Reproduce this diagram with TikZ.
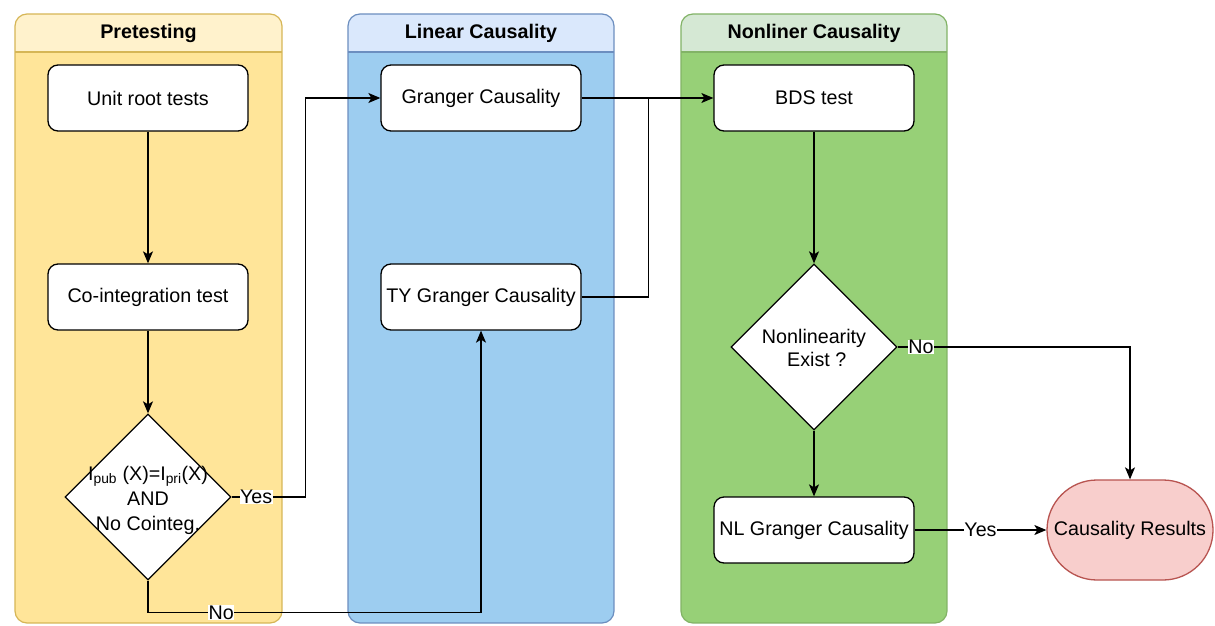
\documentclass[tikz,border=0pt]{standalone}
\usepackage{fontspec}
\setmainfont{Liberation Sans}
\usetikzlibrary{shapes.geometric,arrows.meta,calc}
\definecolor{yelHead}{HTML}{FFF2CC}
\definecolor{yelBody}{HTML}{FFE599}
\definecolor{yelLine}{HTML}{D6B656}
\definecolor{bluHead}{HTML}{DAE8FC}
\definecolor{bluBody}{HTML}{9DCDF0}
\definecolor{bluLine}{HTML}{6C8EBF}
\definecolor{grnHead}{HTML}{D5E8D4}
\definecolor{grnBody}{HTML}{97D077}
\definecolor{grnLine}{HTML}{82B366}
\definecolor{redFill}{HTML}{F8CECC}
\definecolor{redLine}{HTML}{B85450}
\tikzset{
  txt/.style={font=\fontsize{19.7}{23.6}\selectfont},
  lanetitle/.style={font=\fontsize{19.7}{23.6}\selectfont\bfseries},
  stepbox/.style={txt, draw, fill=white, line width=1.3pt, rounded corners=10pt,
    minimum width=200pt, minimum height=66pt, inner sep=2pt},
  decision/.style={diamond, draw, fill=white, line width=1.3pt,
    minimum width=166pt, minimum height=166pt, inner sep=0pt},
  terminal/.style={txt, draw=redLine, fill=redFill, line width=1.3pt, rounded corners=50pt,
    minimum width=166pt, minimum height=100pt, inner sep=2pt},
  conn/.style={line width=1.3pt},
  arr/.style={conn, -{Stealth[length=12pt,width=10pt,inset=3pt]}},
  lbl/.style={txt, fill=white, inner sep=0.5pt}
}
\begin{document}
\begin{tikzpicture}[x=1pt,y=-1pt]
\useasboundingbox (0,0) rectangle (1215,626);
\fill[white] (0,0) rectangle (1215,626);

% swimlanes: left edge, right edge, colour prefix, title
\foreach \xa/\xb/\cl/\ttl in {15/282/yel/Pretesting, 348/614/blu/Linear Causality, 681/947/grn/Nonliner Causality}{
  \begin{scope}
    \clip[rounded corners=12pt] (\xa,14) rectangle (\xb,623);
    \fill[\cl Head] (\xa,14) rectangle (\xb,52);
    \fill[\cl Body] (\xa,52) rectangle (\xb,623);
  \end{scope}
  \draw[\cl Line, line width=1.2pt, rounded corners=12pt] (\xa,14) rectangle (\xb,623);
  \draw[\cl Line, line width=1.2pt] (\xa,52) -- (\xb,52);
  \node[lanetitle] at ({(\xa+\xb)/2},33) {\ttl};
}

% pretesting
\node[stepbox] (ur) at (148,98) {Unit root tests};
\node[stepbox] (ci) at (148,297) {Co-integration test};
\node[decision] (d1) at (148,497) {};
\node[font=\fontsize{19.7}{25}\selectfont, align=center] at (148,500)
  {I\textsubscript{pub} (X)=I\textsubscript{pri}(X)\\AND\\No Cointeg.};

% linear causality
\node[stepbox] (gc) at (481,98) {Granger Causality};
\node[stepbox] (ty) at (481,297) {TY Granger Causality};

% nonlinear causality
\node[stepbox] (bds) at (814,98) {BDS test};
\node[decision] (d2) at (814,347) {};
\node[txt, align=center] at (814,348) {Nonlinearity\\ \ Exist ?};
\node[stepbox] (nl) at (814,530) {NL Granger Causality};

% outcome
\node[terminal] (cr) at (1130,530) {Causality Results};

% connectors
\draw[arr] (ur) -- (ci);
\draw[arr] (ci) -- (d1);
\draw[arr] (d1.east) -- node[lbl, pos=0.33] {Yes} ++(74,0) |- (gc.west);
\draw[conn] (d1.south) -- ++(0,32) coordinate (nb);
\draw[arr] (nb) -- node[lbl, pos=0.22] {No} (nb -| ty.south) -- (ty.south);
\draw[arr] (gc.east) -- (bds.west);
\coordinate (mg) at ($(gc.east)+(67,0)$);
\draw[conn] (ty.east) -| (mg);
\draw[arr] (bds) -- (d2);
\draw[arr] (d2) -- (nl);
\draw[arr] (d2.east) -- node[lbl, pos=0.1] {No} (d2.east -| cr.north) -- (cr.north);
\draw[arr] (nl.east) -- node[lbl] {Yes} (cr.west);
\end{tikzpicture}
\end{document}
